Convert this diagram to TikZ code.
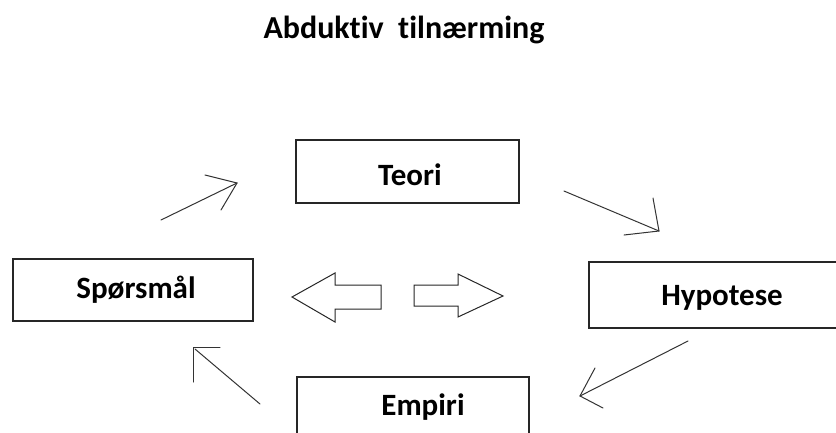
\documentclass[tikz,border=0pt]{standalone}
\usepackage{fontspec}
\setmainfont{Carlito}[Ligatures={NoCommon}]
\begin{document}
\begin{tikzpicture}[x=1pt,y=-1pt,
  box/.style={draw=black!85, line width=1.2pt, fill=white, inner sep=0pt},
  lbl/.style={anchor=base, inner sep=0pt, font=\bfseries\fontsize{31}{37}\selectfont},
  stroke/.style={draw=black!80, line width=1pt, line cap=round, line join=miter},
  block/.style={draw=black!85, line width=1pt, fill=white, line join=miter}]
\clip (0,0) rectangle (836,432);
\useasboundingbox (0,0) rectangle (836,432);

% title
\node[anchor=base, inner sep=0pt, font=\bfseries\fontsize{32}{38}\selectfont]
  (title) at (404,38) {Abduktiv\hspace{0.45em}tilnærming};

% the four boxes
\node[box, minimum width=223pt, minimum height=63pt] (teori)    at (407.5,171.5) {};
\node[box, minimum width=240pt, minimum height=62pt] (sporsmal) at (133,290) {};
\node[box, minimum width=266pt, minimum height=66pt] (hypotese) at (722,295) {};
\node[box, minimum width=232pt, minimum height=64pt] (empiri)   at (413,409) {};

% box labels
\node[lbl] (teori-t)    at (410,185) {Teori};
\node[lbl] (sporsmal-t) at (136,298) {Spørsmål};
\node[lbl] (hypotese-t) at (722,305) {Hypotese};
\node[lbl] (empiri-t)   at (423,415) {Empiri};

% hollow block arrows in the middle
\draw[block] (292,297) -- (335,273) -- (335,285) -- (381,285)
  -- (381,309) -- (335,309) -- (335,322) -- cycle;
\draw[block] (503,296) -- (458,274) -- (458,285) -- (414,285)
  -- (414,306) -- (458,306) -- (458,317) -- cycle;

% open-headed cycle arrows
\coordinate (a1s) at (161,220); \coordinate (a1e) at (237,183);
\draw[stroke] (a1s) -- (a1e);
\draw[stroke] (205,175) -- (a1e) -- (221,210);

\coordinate (a2s) at (564,191); \coordinate (a2e) at (659,231);
\draw[stroke] (a2s) -- (a2e);
\draw[stroke] (653,198) -- (a2e) -- (624,235);

\coordinate (a3s) at (688,341); \coordinate (a3e) at (580,396);
\draw[stroke] (a3s) -- (a3e);
\draw[stroke] (595,368) -- (a3e) -- (603,408);

\coordinate (a4s) at (260,404); \coordinate (a4e) at (195,349);
\draw[stroke] (a4s) -- (a4e);
\draw[stroke] (193,382) -- (193,347) -- (220,347);
\end{tikzpicture}
\end{document}
